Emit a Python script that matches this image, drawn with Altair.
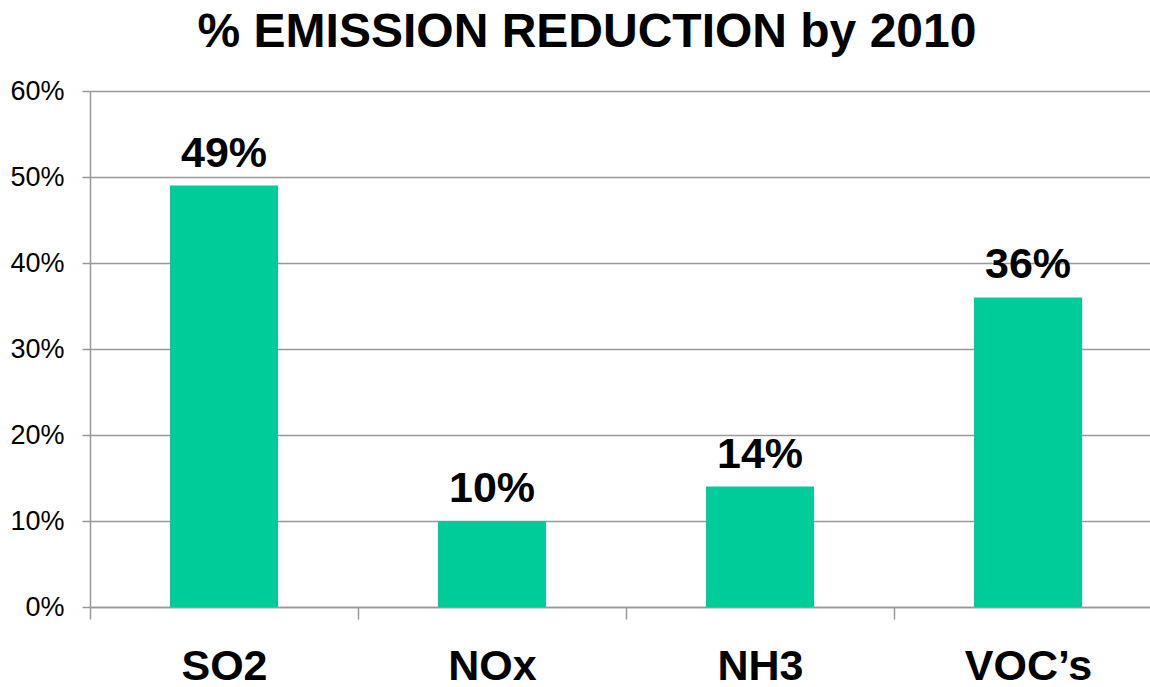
import altair as alt
import pandas as pd

categories = ["SO2", "NOx", "NH3", "VOC\u2019s"]
values = [0.49, 0.10, 0.14, 0.36]
labels = ["49%", "10%", "14%", "36%"]

df = pd.DataFrame({"cat": categories, "val": values, "lab": labels})

FONT = "Liberation Sans"

x_enc = alt.X(
    "cat:N",
    sort=categories,
    title=None,
    scale=alt.Scale(range=[0, 1072], paddingInner=0.597, paddingOuter=0.2985),
    axis=alt.Axis(
        labelFont=FONT, labelFontSize=43, labelFontWeight="bold", labelColor="black",
        labelPadding=26, labelAngle=0, tickBand="center", tickOffset=-134,
        labelOffset=134, tickSize=12,
        tickColor="#999999", tickWidth=1.5, domainColor="#999999", domainWidth=1.5,
        grid=False,
    ),
)

y_enc = alt.Y(
    "val:Q",
    title=None,
    scale=alt.Scale(domain=[0, 0.6], nice=False),
    axis=alt.Axis(
        values=[0, 0.1, 0.2, 0.3, 0.4, 0.5, 0.6], format=".0%",
        labelFont=FONT, labelFontSize=27, labelColor="black", labelPadding=18,
        tickSize=8, tickColor="#999999", tickWidth=1.5,
        domainColor="#999999", domainWidth=1.5,
        grid=True, gridColor="#999999", gridWidth=1.5,
    ),
)

bars = alt.Chart(df).mark_bar(color="#00CC99").encode(x=x_enc, y=y_enc)
text = alt.Chart(df).mark_text(
    font=FONT, fontSize=43, fontWeight="bold", color="black",
    baseline="bottom", dy=-10,
).encode(x=alt.X("cat:N", sort=categories), y="val:Q", text="lab:N")

chart = alt.layer(bars, text).properties(
    width=1060,
    height=516,
    title=alt.TitleParams(
        "% EMISSION REDUCTION by 2010", font=FONT, fontSize=48, fontWeight="bold",
        color="black", anchor="middle", offset=20, dx=-33,
    ),
    autosize=alt.AutoSizeParams(type="none"),
    padding={"left": 90, "top": 91, "right": 0, "bottom": 80},
).configure_view(stroke=None).configure(background="white")

chart.save("out.html", embed_options={"renderer": "svg", "actions": False})
